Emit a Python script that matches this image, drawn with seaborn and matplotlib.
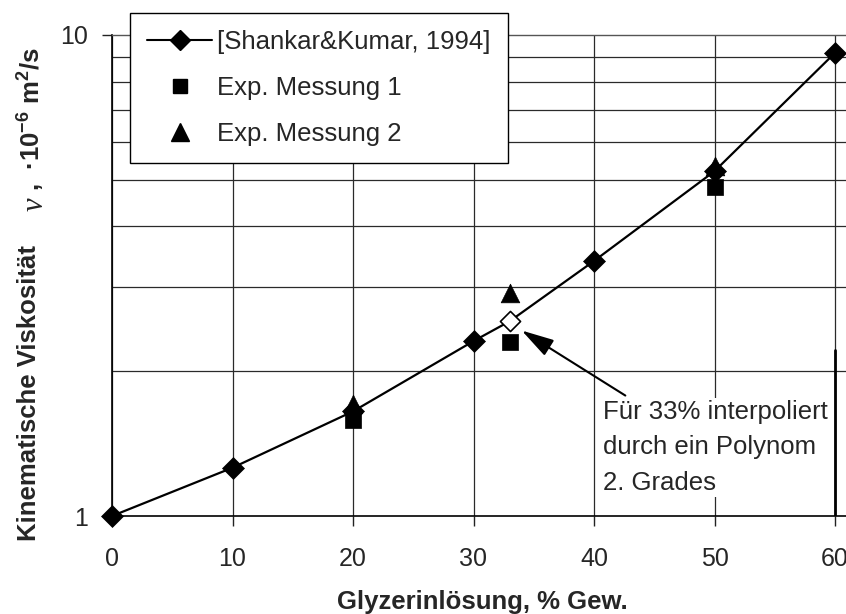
import matplotlib
matplotlib.use("Agg")
import matplotlib.pyplot as plt
import matplotlib.ticker as mticker
from matplotlib.lines import Line2D
import seaborn as sns
import pandas as pd

# ---- data ----
ref_conc = [0, 10, 20, 30, 33, 40, 50, 60]
ref_visc = [1.0, 1.26, 1.65, 2.31, 2.54, 3.39, 5.21, 9.18]
ref_interpolated = [False, False, False, False, True, False, False, False]
exp1_conc = [20, 33, 50]
exp1_visc = [1.58, 2.30, 4.83]
exp2_conc = [20, 33, 50]
exp2_visc = [1.71, 2.91, 5.34]
x_ticks = [0, 10, 20, 30, 40, 50, 60]
y_major = [1, 10]
y_minor = [2, 3, 4, 5, 6, 7, 8, 9]

label_ref = "[Shankar&Kumar, 1994]"
label_e1 = "Exp. Messung 1"
label_e2 = "Exp. Messung 2"
annot_text = "Für 33% interpoliert\ndurch ein Polynom\n2. Grades"
xlabel = "Glyzerinlösung, % Gew."
ylabel_main = "Kinematische Viskosität"
ylabel_sym = "ν"
ylabel_unit = ",  ·10$^{\\mathbf{-6}}$ m$^{\\mathbf{2}}$/s"

sns.set_style("white")
plt.rcParams['font.family'] = ['Liberation Sans', 'DejaVu Sans']
plt.rcParams['mathtext.fontset'] = 'custom'
plt.rcParams['mathtext.rm'] = 'Liberation Sans'
plt.rcParams['mathtext.bf'] = 'Liberation Sans:bold'
plt.rcParams['mathtext.it'] = 'Liberation Sans:italic'

FS = 18
W, H = 846, 614
fig = plt.figure(figsize=(W / 100, H / 100), dpi=100)
ax = fig.add_axes([112 / W, 1 - 516 / H, (W - 112) / W, (516 - 35) / H])

df_ref = pd.DataFrame({"c": ref_conc, "v": ref_visc, "interp": ref_interpolated})
df_filled = df_ref[~df_ref["interp"]]
df_open = df_ref[df_ref["interp"]]

sns.lineplot(data=df_ref, x="c", y="v", color="black", lw=1.6, ax=ax,
             zorder=3, sort=True, estimator=None, clip_on=False)
sns.scatterplot(data=df_filled, x="c", y="v", marker="D", s=125, color="black",
                edgecolor="black", linewidth=0.5, ax=ax, zorder=4, clip_on=False)
sns.scatterplot(data=df_open, x="c", y="v", marker="D", s=105, facecolor="white",
                edgecolor="black", linewidth=1.2, ax=ax, zorder=4, clip_on=False)
sns.scatterplot(x=exp1_conc, y=exp1_visc, marker="s", s=117, color="black",
                edgecolor="black", linewidth=0.5, ax=ax, zorder=4, clip_on=False)
sns.scatterplot(x=exp2_conc, y=exp2_visc, marker="^", s=180, color="black",
                edgecolor="black", linewidth=0.5, ax=ax, zorder=4, clip_on=False)
ax.set_xlabel("")
ax.set_ylabel("")

ax.set_yscale("log")
ax.set_ylim(1, 10)
ax.set_xlim(0, 60 * (W - 112) / (835 - 112))
ax.set_xticks(x_ticks)
ax.set_xticklabels([str(t) for t in x_ticks])
ax.yaxis.set_major_locator(mticker.FixedLocator(y_major))
ax.yaxis.set_major_formatter(mticker.FixedFormatter([str(t) for t in y_major]))
ax.yaxis.set_minor_locator(mticker.FixedLocator(y_minor))
ax.yaxis.set_minor_formatter(mticker.NullFormatter())

ax.tick_params(axis="x", which="major", direction="out", length=7, width=1,
               color="#222222", labelsize=FS, pad=15, bottom=True)
ax.tick_params(axis="y", which="major", direction="out", length=7, width=1,
               color="#222222", labelsize=FS, pad=10, left=True)
ax.tick_params(axis="y", which="minor", length=0)

ax.grid(True, which="major", axis="x", color="#2a2a2a", lw=0.9)
ax.grid(True, which="minor", axis="y", color="#2a2a2a", lw=0.9)
ax.grid(False, which="major", axis="y")
ax.set_axisbelow(True)

for side in ["left", "bottom"]:
    ax.spines[side].set_color("black")
    ax.spines[side].set_linewidth(1.2)
ax.spines["top"].set_color("#555555")
ax.spines["top"].set_linewidth(1.0)
ax.spines["right"].set_visible(False)

# thick vertical stroke at x=60 near the bottom
ax.axvline(60, 0, 0.345, color="black", lw=2, zorder=2)

fig.text(482 / W, 1 - 609 / H, xlabel, fontsize=18.5, fontweight="bold",
         ha="center", va="baseline")
fig.text(29 / W, 1 - 541 / H, ylabel_main, fontsize=18.5, fontweight="bold",
         rotation=90, ha="center", va="bottom")
fig.text(35 / W, 1 - 204 / H, ylabel_sym, fontsize=22, family="Liberation Serif",
         style="italic", rotation=90, ha="center", va="center")
fig.text(31 / W, 1 - 191 / H, ylabel_unit, fontsize=18.5, fontweight="bold",
         rotation=90, ha="center", va="bottom")

ax.annotate("", xy=(34.0, 2.43), xytext=(42.6, 1.78),
            arrowprops=dict(arrowstyle="-|>,head_length=1.0,head_width=0.28",
                            mutation_scale=20, color="black", lw=1.5,
                            shrinkA=0, shrinkB=0), zorder=5)
ax.text(40.75, 1.745, annot_text, fontsize=18.5, va="top", ha="left",
        linespacing=1.62, zorder=5,
        bbox=dict(facecolor="white", edgecolor="none", pad=1))

handles = [
    Line2D([], [], color="black", lw=1.5, marker="D", markersize=10, markerfacecolor="black"),
    Line2D([], [], color="black", lw=0, marker="s", markersize=10.5),
    Line2D([], [], color="black", lw=0, marker="^", markersize=12.5),
]
leg = ax.legend(handles, [label_ref, label_e1, label_e2], loc="upper left",
                bbox_to_anchor=(130 / W, 1 - 13 / H), bbox_transform=fig.transFigure,
                borderaxespad=0, fontsize=18.5, frameon=True, fancybox=False,
                framealpha=1, edgecolor="black", borderpad=0.68,
                labelspacing=0.84, handlelength=2.5, handletextpad=0.2)
leg.get_frame().set_linewidth(1.0)
leg.set_zorder(6)

fig.savefig("out.png", dpi=100)
